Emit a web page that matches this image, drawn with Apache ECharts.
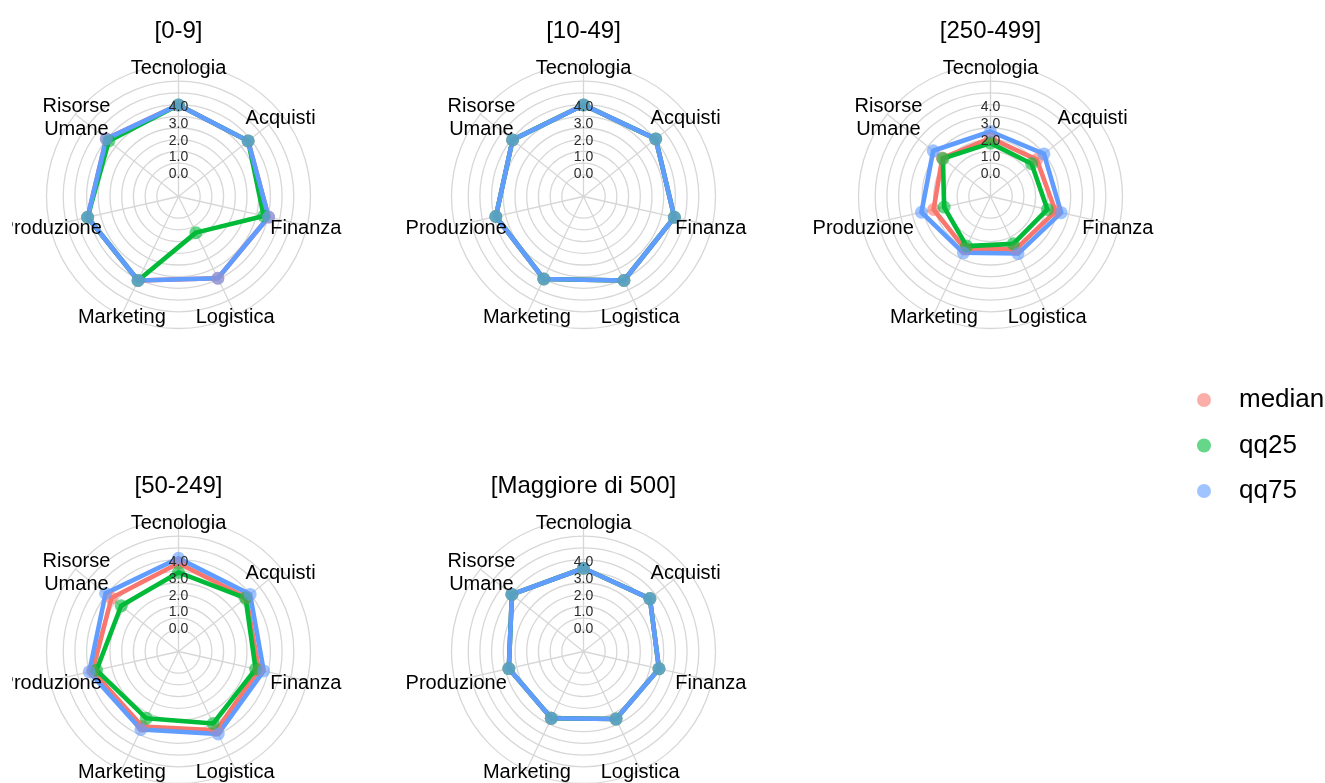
<!DOCTYPE html>
<html>
<head>
<meta charset="utf-8">
<script src="https://cdn.jsdelivr.net/npm/echarts@6/dist/echarts.min.js"></script>
<style>
  html, body { margin: 0; padding: 0; background: #ffffff; }
  body { width: 1325px; height: 783px; position: relative; overflow: hidden; }
  .panel { position: absolute; }
</style>
</head>
<body>
<div id="p0" class="panel" style="left:12px;top:0px;width:333px;height:455px"></div>
<div id="p1" class="panel" style="left:395px;top:0px;width:377px;height:455px"></div>
<div id="p2" class="panel" style="left:800px;top:0px;width:381px;height:455px"></div>
<div id="p3" class="panel" style="left:12px;top:455px;width:333px;height:328px"></div>
<div id="p4" class="panel" style="left:395px;top:455px;width:377px;height:328px"></div>
<div id="legend" class="panel" style="left:1160px;top:370px;width:165px;height:150px"></div>
<script>
// Business areas, clockwise from the top
const AREAS = ['Tecnologia', 'Acquisti', 'Finanza', 'Logistica', 'Marketing', 'Produzione', 'Risorse\nUmane'];
const SERIES_NAMES = ['median', 'qq25', 'qq75'];
const FACET_TITLES = ['[0-9]', '[10-49]', '[250-499]', '[50-249]', '[Maggiore di 500]'];
const TICK_VALUES = [0, 1, 2, 3, 4];

// Scores per area (same order as AREAS), one set per company size class
const median_0_9 = [4.1, 3.95, 4.15, 4.05, 4.2, 4.2, 4.15];
const qq25_0_9   = [4.1, 3.95, 3.85, 1.0, 4.2, 4.2, 3.95];
const qq75_0_9   = [4.1, 3.95, 4.15, 4.05, 4.2, 4.2, 4.15];

const median_10_49 = [4.1, 4.15, 4.2, 4.2, 4.1, 4.0, 4.05];
const qq25_10_49   = [4.1, 4.15, 4.2, 4.2, 4.1, 4.0, 4.05];
const qq75_10_49   = [4.1, 4.15, 4.2, 4.2, 4.1, 4.0, 4.05];

const median_250_499 = [2.1, 2.15, 2.6, 2.1, 2.1, 2.1, 2.3];
const qq25_250_499   = [1.8, 1.75, 2.1, 1.75, 1.9, 1.45, 2.25];
const qq75_250_499   = [2.5, 2.7, 2.95, 2.4, 2.35, 2.85, 3.0];

const median_50_249 = [3.9, 3.8, 3.55, 3.85, 3.6, 3.9, 3.75];
const qq25_50_249   = [3.35, 3.75, 3.35, 3.4, 3.05, 3.65, 3.0];
const qq75_50_249   = [4.2, 4.1, 3.85, 4.1, 3.8, 4.1, 4.2];

const median_500 = [3.6, 3.7, 3.25, 3.1, 3.05, 3.2, 4.1];
const qq25_500   = [3.6, 3.7, 3.25, 3.1, 3.05, 3.2, 4.1];
const qq75_500   = [3.6, 3.7, 3.25, 3.1, 3.05, 3.2, 4.1];

const PANELS = [
  { id: 'p0', title: FACET_TITLES[0], values: [median_0_9, qq25_0_9, qq75_0_9] },
  { id: 'p1', title: FACET_TITLES[1], values: [median_10_49, qq25_10_49, qq75_10_49] },
  { id: 'p2', title: FACET_TITLES[2], values: [median_250_499, qq25_250_499, qq75_250_499] },
  { id: 'p3', title: FACET_TITLES[3], values: [median_50_249, qq25_50_249, qq75_50_249] },
  { id: 'p4', title: FACET_TITLES[4], values: [median_500, qq25_500, qq75_500] }
];

const LINE_COLORS = ['#F8766D', '#00BA38', '#619CFF'];
const POINT_COLORS = ['rgba(248,118,109,0.6)', 'rgba(0,186,56,0.6)', 'rgba(97,156,255,0.6)'];
const GRID_COLOR = '#D7D7D7';
const FONT = "'Liberation Sans', Arial, sans-serif";

// radial layout (pixels): value 0 sits on an inner ring, the scale grows outward
const CENTER_Y = 196.5;
const R_ZERO = 23.5;
const PX_PER_UNIT = 16.6;
const V_MAX = 6.5;
const R_OUTER = 132;
const LABEL_RADIUS_VALUE = 6.45;
// background rings: evenly spaced circles inside the rim
const RING_FIRST = 21.7;
const RING_STEP = 11.7;
const RING_COUNT = 8;

function panelOption(panel) {
  const n = AREAS.length;
  const closed = arr => arr.map((v, i) => [v, i]).concat([[arr[0], n]]);
  const series = [];
  // polygons first, then all points on top
  panel.values.forEach((arr, s) => {
    series.push({
      type: 'line', name: SERIES_NAMES[s], coordinateSystem: 'polar', polarIndex: 1,
      data: closed(arr), showSymbol: false, symbol: 'none', silent: true, z: 3,
      lineStyle: { color: LINE_COLORS[s], width: 4.6, join: 'round', cap: 'round', opacity: 1 }
    });
  });
  panel.values.forEach((arr, s) => {
    series.push({
      type: 'scatter', name: SERIES_NAMES[s], coordinateSystem: 'polar', polarIndex: 1,
      data: arr.map((v, i) => [v, i]), symbol: 'circle', symbolSize: 13, silent: true, z: 4,
      itemStyle: { color: POINT_COLORS[s], opacity: 1 }
    });
  });
  // area names around the rim
  series.push({
    type: 'scatter', coordinateSystem: 'polar', polarIndex: 1, silent: true, z: 5,
    symbolSize: 0, itemStyle: { color: 'rgba(0,0,0,0)', opacity: 1 },
    data: AREAS.map((name, i) => ({ name: name, value: [LABEL_RADIUS_VALUE, i] })),
    label: {
      show: true, position: 'inside', formatter: p => p.name, offset: [0, 3], opacity: 1,
      color: '#000000', fontSize: 20, lineHeight: 23, fontFamily: FONT
    }
  });
  // radial scale labels along the top spoke
  series.push({
    type: 'scatter', coordinateSystem: 'polar', polarIndex: 1, silent: true, z: 5,
    symbolSize: 0, itemStyle: { color: 'rgba(0,0,0,0)', opacity: 1 },
    data: TICK_VALUES.map(t => [t, 0]),
    label: {
      show: true, position: 'inside', formatter: p => p.value[0].toFixed(1), offset: [0, 1], opacity: 1,
      color: '#2b2b2b', fontSize: 14, fontFamily: FONT
    }
  });

  const hiddenAngle = idx => ({
    polarIndex: idx, type: 'value', min: 0, max: n, interval: 1, startAngle: 90, clockwise: true,
    axisLine: { show: false }, axisTick: { show: false }, axisLabel: { show: false },
    splitLine: { show: false }
  });

  return {
    animation: false,
    title: {
      text: panel.title, left: 'center', top: 19, padding: 0,
      textStyle: { fontSize: 24, fontWeight: 'normal', color: '#000000', fontFamily: FONT }
    },
    polar: [
      { center: ['50%', CENTER_Y], radius: [0, R_OUTER] },
      { center: ['50%', CENTER_Y], radius: [R_ZERO, R_ZERO + PX_PER_UNIT * V_MAX] },
      { center: ['50%', CENTER_Y], radius: [RING_FIRST, RING_FIRST + RING_STEP * RING_COUNT] }
    ],
    angleAxis: [
      {
        polarIndex: 0, type: 'value', min: 0, max: n, interval: 1, startAngle: 90, clockwise: true,
        axisLine: { show: true, lineStyle: { color: GRID_COLOR, width: 1.3 } },
        axisTick: { show: false }, axisLabel: { show: false },
        splitLine: { show: true, lineStyle: { color: GRID_COLOR, width: 1.3 } }
      },
      hiddenAngle(1),
      hiddenAngle(2)
    ],
    radiusAxis: [
      {
        polarIndex: 0, type: 'value', min: 0, max: 1,
        axisLine: { show: false }, axisTick: { show: false }, axisLabel: { show: false },
        splitLine: { show: false }
      },
      {
        polarIndex: 1, type: 'value', min: 0, max: V_MAX,
        axisLine: { show: false }, axisTick: { show: false }, axisLabel: { show: false },
        splitLine: { show: false }
      },
      {
        polarIndex: 2, type: 'value', min: 0, max: RING_COUNT, interval: 1,
        axisLine: { show: false }, axisTick: { show: false }, axisLabel: { show: false },
        splitLine: { show: true, lineStyle: { color: GRID_COLOR, width: 1.3 } }
      }
    ],
    series: series
  };
}

PANELS.forEach(panel => {
  const chart = echarts.init(document.getElementById(panel.id), null, { renderer: 'canvas' });
  chart.setOption(panelOption(panel));
});

// shared legend
const legendChart = echarts.init(document.getElementById('legend'), null, { renderer: 'canvas' });
legendChart.setOption({
  animation: false,
  grid: { show: false, left: 0, right: 0, top: 0, bottom: 0 },
  xAxis: { show: false, type: 'value' },
  yAxis: { show: false, type: 'value' },
  legend: {
    orient: 'vertical', left: 32, top: 12, itemWidth: 60, itemHeight: 14, itemGap: 19.5,
    icon: 'circle', selectedMode: false,
    textStyle: { fontSize: 26, lineHeight: 24, color: '#000000', fontFamily: FONT },
    data: SERIES_NAMES.map((name, s) => ({ name: name, itemStyle: { color: POINT_COLORS[s], opacity: 1 } }))
  },
  series: SERIES_NAMES.map((name, s) => ({
    type: 'scatter', name: name, data: [], itemStyle: { color: POINT_COLORS[s], opacity: 1 }
  }))
});
</script>
</body>
</html>
